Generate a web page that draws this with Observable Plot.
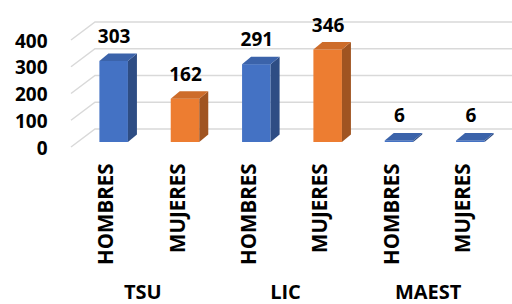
<!DOCTYPE html>
<html><head><meta charset="utf-8">
<script src="https://cdn.jsdelivr.net/npm/d3@7"></script>
<script src="https://cdn.jsdelivr.net/npm/@observablehq/plot@0.6"></script>
<style>html,body{margin:0;padding:0;background:#fff}</style>
</head><body><div id="chart"></div>
<script>
// ---- data ----
const groups = ["TSU", "LIC", "MAEST"];
const genders = ["HOMBRES", "MUJERES", "HOMBRES", "MUJERES", "HOMBRES", "MUJERES"];
const barGroups = ["TSU", "TSU", "LIC", "LIC", "MAEST", "MAEST"];
const values = [303, 162, 291, 346, 6, 6];
const barColors = ["#4472C4", "#ED7D31", "#4472C4", "#ED7D31", "#4472C4", "#4472C4"];
const yTicks = [0, 100, 200, 300, 400];

// ---- style constants ----
const BAR_HALF = 0.2;           // half bar width in band units
const DEPTH_DX = 9, DEPTH_DY = -7.5;   // bar depth
const WALL_DX = 17, WALL_DY = -13;     // back wall offset from bar plane
const FLOOR_DX = -24, FLOOR_DY = 18;   // side wall diagonal
const GRID = "#d9d9d9";
const FONT = "'Open Sans', 'DejaVu Sans', sans-serif";

const data = values.map((v, i) => ({
  pos: i, value: v, gender: genders[i], group: barGroups[i], color: barColors[i]
}));
const groupRows = groups.map(name => ({
  name, center: d3.mean(data.filter(d => d.group === name), d => d.pos)
}));

function wallRender(index, scales, vals, dims) {
  const g = d3.create("svg:g");
  const xl = dims.marginLeft + WALL_DX;
  for (const i of index) {
    const yb = scales.y(yTicks[i]) + WALL_DY;
    g.append("path")
      .attr("d", `M${xl + FLOOR_DX},${yb + FLOOR_DY}L${xl},${yb}L${dims.width},${yb}`)
      .attr("fill", "none").attr("stroke", GRID).attr("stroke-width", 1.5);
  }
  return g.node();
}

function cubeRender(index, scales, vals, dims, ctx, next) {
  const g = d3.select(next(index, scales, vals, dims, ctx));
  for (const i of index) {
    const d = data[i];
    const xa = scales.x(d.pos - BAR_HALF), xb = scales.x(d.pos + BAR_HALF);
    const y0 = scales.y(0), yt = scales.y(d.value);
    const c = d3.color(d.color);
    g.append("polygon")
      .attr("points", [[xb, yt], [xb + DEPTH_DX, yt + DEPTH_DY], [xb + DEPTH_DX, y0 + DEPTH_DY], [xb, y0]].join(" "))
      .attr("fill", c.darker(1.1).formatHex());
    g.append("polygon")
      .attr("points", [[xa, yt], [xa + DEPTH_DX, yt + DEPTH_DY], [xb + DEPTH_DX, yt + DEPTH_DY], [xb, yt]].join(" "))
      .attr("fill", c.darker(0.4).formatHex());
  }
  return g.node();
}

const chart = Plot.plot({
  width: 512, height: 304,
  marginLeft: 78, marginRight: 6, marginTop: 35, marginBottom: 162,
  x: {domain: [-0.5, 5.5], axis: null},
  y: {domain: [0, 400], axis: null},
  style: {fontFamily: FONT, background: "#fff", overflow: "visible"},
  marks: [
    Plot.ruleY(yTicks, {y: d => d, render: wallRender}),
    Plot.rectY(data, {x1: d => d.pos - BAR_HALF, x2: d => d.pos + BAR_HALF, y: "value", fill: "color", render: cubeRender}),
    Plot.text(yTicks, {y: d => d, text: d => String(d), frameAnchor: "left", textAnchor: "end",
      dx: -31, dy: 6, fontSize: 19, fontWeight: 700, fill: "#000"}),
    Plot.text(data, {x: "pos", y: "value", text: d => String(d.value), dy: -24.5,
      fontSize: 19, fontWeight: 700, fill: "#000"}),
    Plot.text(data, {x: "pos", text: "gender", frameAnchor: "bottom", rotate: -90, textAnchor: "end",
      lineAnchor: "middle", dx: -7.5, dy: 21, fontSize: 20.5, fontWeight: 700, fill: "#000"}),
    Plot.text(groupRows, {x: "center", text: "name", frameAnchor: "bottom", dx: -7, dy: 156,
      fontSize: 20, fontWeight: 700, fill: "#000"})
  ]
});
document.getElementById("chart").appendChild(chart);
</script>
</body></html>
